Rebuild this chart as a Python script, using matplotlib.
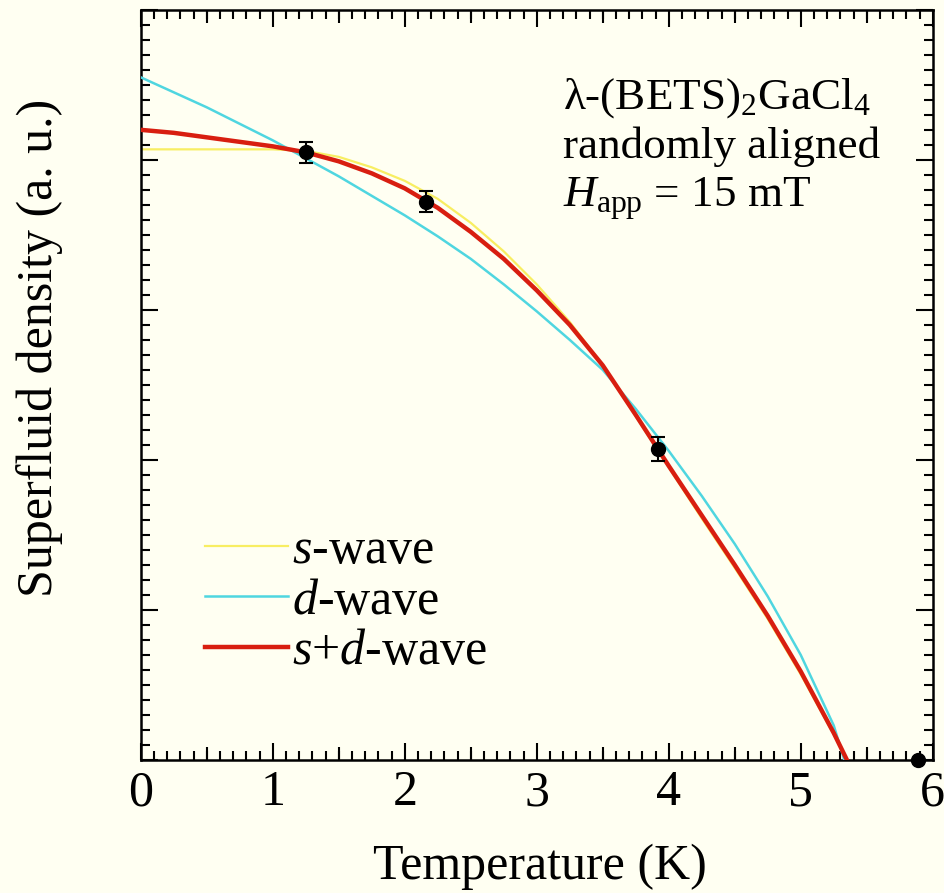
import numpy as np
import matplotlib
matplotlib.use("Agg")
import matplotlib.pyplot as plt
from matplotlib.ticker import MultipleLocator, NullFormatter

# Values
temp_grid = [0.0, 0.25, 0.5, 0.75, 1.0, 1.25, 1.5, 1.75, 2.0, 2.25, 2.5, 2.75,
             3.0, 3.25, 3.5, 3.75, 4.0, 4.25, 4.5, 4.75, 5.0, 5.25]

s_wave = [4.07, 4.07, 4.07, 4.07, 4.07, 4.06, 4.02, 3.95, 3.86, 3.74, 3.58, 3.39,
          3.17, 2.92, 2.63, 2.29, 1.95, 1.61, 1.28, 0.94, 0.57, 0.17]
s_wave_end = (5.35, 0.0)

d_wave = [4.55, 4.45, 4.35, 4.24, 4.13, 4.01, 3.89, 3.76, 3.63, 3.49, 3.34, 3.17,
          2.99, 2.80, 2.60, 2.34, 2.06, 1.76, 1.44, 1.09, 0.70, 0.23]
d_wave_end = (5.33, 0.0)

sd_wave = [4.20, 4.18, 4.15, 4.12, 4.09, 4.05, 3.99, 3.91, 3.81, 3.68, 3.52, 3.34,
           3.13, 2.90, 2.63, 2.30, 1.96, 1.63, 1.30, 0.96, 0.59, 0.18]
sd_wave_end = (5.35, 0.0)

data_T = [1.25, 2.16, 3.92]
data_rho = [4.05, 3.72, 2.07]
data_err = [0.07, 0.07, 0.08]
tc_point = (5.89, 0.0)

bg = "#FFFFF2"
plt.rcParams["font.family"] = ["Liberation Serif", "DejaVu Serif"]
plt.rcParams["mathtext.fontset"] = "custom"
plt.rcParams["mathtext.rm"] = "Liberation Serif"
plt.rcParams["mathtext.it"] = "Liberation Serif:italic"

fig = plt.figure(figsize=(9.45, 8.93), dpi=100, facecolor=bg)
ax = fig.add_axes([0.149, 0.149, 0.838, 0.840], facecolor=bg)

ax.plot(temp_grid + [s_wave_end[0]], s_wave + [s_wave_end[1]],
        color="#F8EE62", lw=1.6, label=r"$s$-wave", zorder=2)
ax.plot(temp_grid + [d_wave_end[0]], d_wave + [d_wave_end[1]],
        color="#4FD6E0", lw=1.8, label=r"$d$-wave", zorder=3)
ax.plot(temp_grid + [sd_wave_end[0]], sd_wave + [sd_wave_end[1]],
        color="#D81E10", lw=3.2, label=r"$s$+$d$-wave", zorder=4)

ax.errorbar(data_T, data_rho, yerr=data_err, fmt="o", color="black", ms=10,
            capsize=5, elinewidth=1.5, capthick=1.5, zorder=5)
ax.plot([tc_point[0]], [tc_point[1]], "o", color="black", ms=10,
        clip_on=False, zorder=6)

ax.set_xlim(0, 6)
ax.set_ylim(0, 5)

ax.xaxis.set_major_locator(MultipleLocator(1))
ax.xaxis.set_minor_locator(MultipleLocator(0.1))
ax.yaxis.set_major_locator(MultipleLocator(1))
ax.yaxis.set_minor_locator(MultipleLocator(0.1))
ax.yaxis.set_major_formatter(NullFormatter())
ax.tick_params(which="both", direction="in", top=True, right=True, width=1.5)
ax.tick_params(which="major", length=12.5, labelsize=36, pad=7)
ax.tick_params(which="minor", length=6.5)

# medium ticks at the half-integers on top and bottom
for side in ("bottom", "top"):
    sec = ax.secondary_xaxis(side)
    sec.set_xticks(np.arange(0.5, 6, 1.0))
    sec.tick_params(direction="in", length=9.5, width=1.5, labelbottom=False,
                    labeltop=False)
    sec.spines[side].set_visible(False)

for sp in ax.spines.values():
    sp.set_linewidth(1.8)

ax.set_xlabel("Temperature (K)", fontsize=36)
ax.xaxis.set_label_coords(0.504, -0.112)
ax.set_ylabel("Superfluid density (a. u.)", fontsize=36)
ax.yaxis.set_label_coords(-0.098, 0.55)

ax.text(0.533, 0.869, r"λ-(BETS)$_2$GaCl$_4$", transform=ax.transAxes,
        fontsize=32.5, va="baseline", ha="left")
ax.text(0.533, 0.803, "randomly aligned", transform=ax.transAxes,
        fontsize=32.5, va="baseline", ha="left")
ax.text(0.533, 0.737, r"$H_{\rm app}$ = 15 mT", transform=ax.transAxes,
        fontsize=32.5, va="baseline", ha="left")

ax.legend(loc="center left", bbox_to_anchor=(0.081, 0.211), frameon=False,
          fontsize=36, handlelength=1.66, handletextpad=0.08, labelspacing=0.08,
          borderpad=0, borderaxespad=0)

fig.savefig("out.png", dpi=100, facecolor=bg)
